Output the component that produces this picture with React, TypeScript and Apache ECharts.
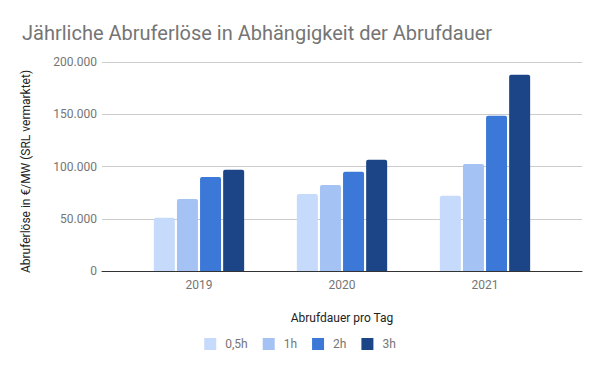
import React, { useEffect, useRef } from "react";
import * as echarts from "echarts";

const categories = ["2019", "2020", "2021"];
const seriesNames = ["0,5h", "1h", "2h", "3h"];
const values05h = [51000, 73800, 71900];
const values1h = [69000, 82400, 102500];
const values2h = [90000, 94900, 148500];
const values3h = [96800, 106400, 187800];
const yTicks = [0, 50000, 100000, 150000, 200000];
const colors = ["#c6dafc", "#a4c2f4", "#3c78d8", "#1c4587"];

const fmt = (v: number) => String(v).replace(/\B(?=(\d{3})+(?!\d))/g, ".");

export default function App() {
  const ref = useRef<HTMLDivElement>(null);
  useEffect(() => {
    const chart = echarts.init(ref.current!, null, { renderer: "svg" });
    const font = "Roboto";
    const seriesData = [values05h, values1h, values2h, values3h];
    chart.setOption({
      animation: false,
      textStyle: { fontFamily: font },
      title: {
        text: "Jährliche Abruferlöse in Abhängigkeit der Abrufdauer",
        left: 17,
        top: 18,
        textStyle: { fontFamily: font, fontSize: 20, fontWeight: "normal", color: "#757575" },
      },
      legend: {
        data: seriesNames,
        bottom: 16,
        left: "center",
        itemWidth: 12,
        itemHeight: 12,
        itemGap: 15,
        icon: "rect",
        textStyle: { fontFamily: font, fontSize: 12, color: "#757575", padding: [0, 0, 0, 4] },
      },
      grid: [
        { left: 102, right: 18, top: 62, bottom: 100 },
        { left: 127.5, right: 43.5, top: 62, bottom: 100 },
      ],
      xAxis: [
        {
          type: "category",
          gridIndex: 0,
          data: categories,
          axisLine: { show: true, lineStyle: { color: "#333333", width: 1 } },
          axisTick: { show: false },
          axisLabel: { show: false },
          splitLine: { show: false },
        },
        {
          type: "category",
          gridIndex: 1,
          data: categories,
          axisLine: { show: false },
          axisTick: { show: false },
          axisLabel: { fontFamily: font, fontSize: 12, color: "#757575", margin: 8 },
          name: "Abrufdauer pro Tag",
          nameLocation: "middle",
          nameGap: 41,
          nameTextStyle: { fontFamily: font, fontSize: 12, color: "#222222" },
        },
      ],
      yAxis: [
        {
          type: "value",
          gridIndex: 0,
          min: yTicks[0],
          max: yTicks[yTicks.length - 1],
          interval: 50000,
          axisLine: { show: false },
          axisTick: { show: false },
          axisLabel: { fontFamily: font, fontSize: 12, color: "#757575", margin: 5, formatter: (v: number) => fmt(v) },
          splitLine: { lineStyle: { color: "#cccccc", width: 1 } },
          name: "Abruferlöse in €/MW (SRL vermarktet)",
          nameLocation: "middle",
          nameGap: 70,
          nameTextStyle: { fontFamily: font, fontSize: 12, color: "#222222", padding: [0, 10, 0, 0] },
        },
        {
          type: "value",
          gridIndex: 1,
          min: yTicks[0],
          max: yTicks[yTicks.length - 1],
          interval: 50000,
          show: false,
          splitLine: { show: false },
        },
      ],
      series: seriesNames.map((name, i) => ({
        name,
        type: "bar",
        xAxisIndex: 1,
        yAxisIndex: 1,
        data: seriesData[i],
        barWidth: 21,
        barGap: "10%",
        itemStyle: { color: colors[i], borderRadius: [2, 2, 0, 0] },
      })),
    });
    return () => chart.dispose();
  }, []);
  return (
    <div
      ref={ref}
      style={{ position: "fixed", left: 0, top: 0, width: 600, height: 371, background: "#ffffff" }}
    />
  );
}
